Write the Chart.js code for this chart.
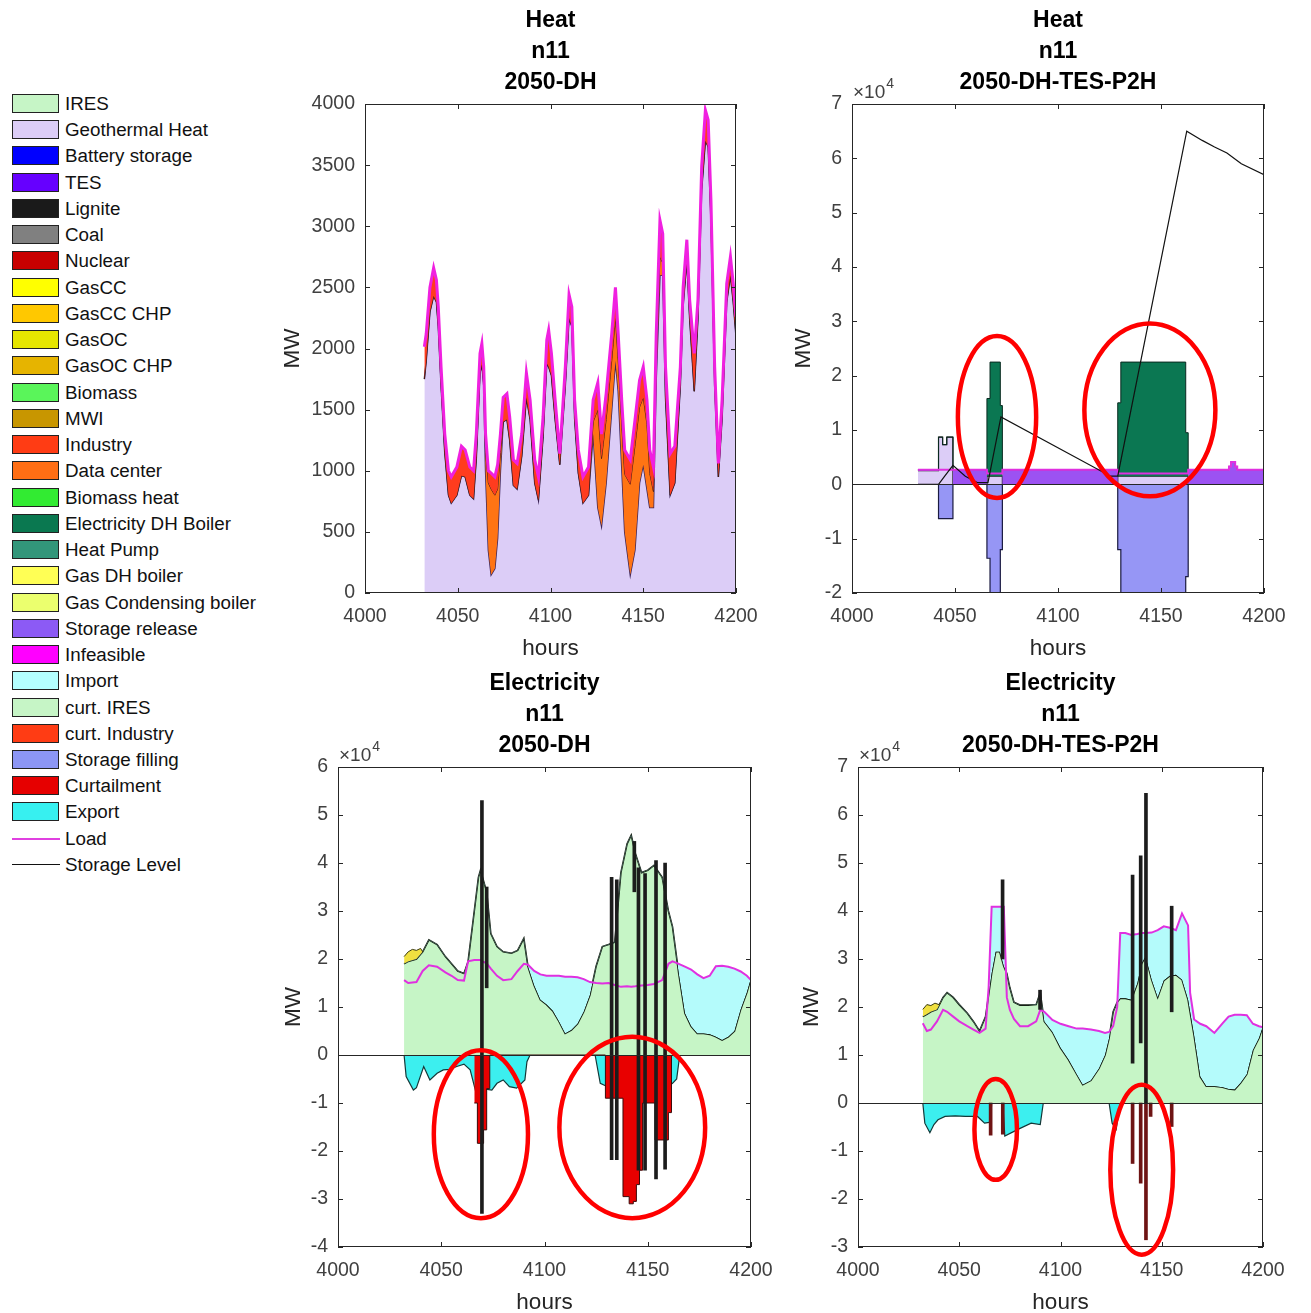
<!DOCTYPE html>
<html>
<head>
<meta charset="utf-8">
<title>Heat / Electricity n11</title>
<script src="https://cdn.jsdelivr.net/npm/chart.js@4.4.1/dist/chart.umd.min.js"></script>
<style>
  html, body { margin: 0; padding: 0; background: #fff; }
  body { position: relative; width: 1311px; height: 1313px; overflow: hidden; font-family: "Liberation Sans", Arial, sans-serif; }
  .panel { position: absolute; }
  .lg-item { position: absolute; left: 0; width: 270px; height: 22px; }
  .lg-box { position: absolute; left: 12px; top: 1px; width: 45px; height: 17px; border: 1.5px solid #222; }
  .lg-line { position: absolute; left: 12px; top: 10px; width: 48px; height: 0; border-top: 2px solid; }
  .lg-text { position: absolute; left: 65px; top: 0; font-size: 18.8px; line-height: 22px; white-space: nowrap; color: #111; }
</style>
</head>
<body>
<div id="legend"></div>
<div class="panel" id="pA"><canvas id="cA"></canvas></div>
<div class="panel" id="pB"><canvas id="cB"></canvas></div>
<div class="panel" id="pC"><canvas id="cC"></canvas></div>
<div class="panel" id="pD"><canvas id="cD"></canvas></div>
<script>
'use strict';

// ---- legend ----
const legendNames = ['IRES', 'Geothermal Heat', 'Battery storage', 'TES', 'Lignite', 'Coal', 'Nuclear', 'GasCC', 'GasCC CHP', 'GasOC', 'GasOC CHP', 'Biomass', 'MWI', 'Industry', 'Data center', 'Biomass heat', 'Electricity DH Boiler', 'Heat Pump', 'Gas DH boiler', 'Gas Condensing boiler', 'Storage release', 'Infeasible', 'Import', 'curt. IRES', 'curt. Industry', 'Storage filling', 'Curtailment', 'Export', 'Load', 'Storage Level'];
const legendColors = ['#c6f5c6', '#dccdf7', '#0000ff', '#6600ff', '#1a1a1a', '#808080', '#c80000', '#ffff00', '#ffc800', '#e6e600', '#e6b400', '#5af55a', '#c89600', '#ff3c14', '#ff6e14', '#32eb32', '#0a7850', '#32967a', '#ffff55', '#ebff6e', '#8c5af5', '#ff00ff', '#b4ffff', '#c6f5c6', '#ff3c14', '#8c96f5', '#e60000', '#37f0f0', '#e040e0', '#111111'];
const legendKinds = ['box', 'box', 'box', 'box', 'box', 'box', 'box', 'box', 'box', 'box', 'box', 'box', 'box', 'box', 'box', 'box', 'box', 'box', 'box', 'box', 'box', 'box', 'box', 'box', 'box', 'box', 'box', 'box', 'line', 'line'];

// ---- Heat, 2050-DH (MW) ----
const hoursA = [4032, 4033, 4035, 4037, 4038.5, 4039.5, 4041, 4043, 4045, 4046.5, 4049.5, 4052, 4054, 4056.5, 4058.5, 4060, 4062, 4063, 4064, 4065, 4066.5, 4068, 4070, 4071.5, 4073, 4074.5, 4076.5, 4078, 4080, 4082, 4084.5, 4087, 4089, 4091.5, 4093.5, 4096, 4098, 4099, 4100.5, 4102.5, 4105, 4108, 4110, 4111.5, 4113, 4115, 4117.5, 4120.5, 4123, 4125.5, 4127.5, 4130, 4133, 4135, 4136.5, 4138.5, 4140, 4143, 4145.5, 4148, 4150, 4152, 4153.5, 4155.5, 4157, 4159, 4160.5, 4162, 4164.5, 4167, 4170, 4171.5, 4173.5, 4175, 4177.5, 4179.5, 4181.5, 4183.5, 4185, 4186.5, 4188.5, 4190.5, 4192.5, 4195, 4197, 4198.5, 4200];
const loadA = [2015, 2120, 2500, 2660, 2560, 2340, 1850, 1300, 1000, 950, 1030, 1200, 1170, 1030, 1000, 1300, 1960, 2040, 1850, 1300, 1000, 980, 950, 1050, 1300, 1600, 1630, 1440, 1090, 1060, 1300, 1800, 1580, 1090, 950, 1440, 2070, 2150, 1960, 1580, 1140, 1850, 2440, 2340, 1580, 1170, 950, 1030, 1580, 1720, 1300, 1630, 2120, 2500, 2120, 1550, 1170, 1090, 1410, 1740, 1850, 1580, 1170, 1030, 2120, 3050, 2940, 1850, 1140, 1200, 1850, 2500, 2890, 2400, 1960, 2400, 3490, 3950, 3870, 3210, 1850, 1060, 1580, 2530, 2750, 2530, 2260];
const geothermalA = [1750, 1900, 2300, 2430, 2380, 2180, 1700, 1150, 800, 735, 800, 960, 950, 800, 770, 1100, 1800, 1870, 1700, 1000, 350, 150, 200, 450, 1000, 1400, 1420, 1250, 880, 850, 1120, 1600, 1420, 900, 760, 1280, 1880, 1850, 1780, 1420, 1050, 1700, 2250, 2180, 1430, 980, 735, 800, 1300, 700, 550, 900, 1500, 1900, 1650, 1000, 500, 150, 350, 900, 1050, 850, 700, 700, 1750, 2600, 2600, 1600, 800, 900, 1700, 2350, 2720, 2250, 1650, 2250, 3300, 3700, 3650, 3050, 1700, 950, 1430, 2380, 2600, 2380, 2100];
const dataCenterTopA = [1750, 1900, 2300, 2430, 2380, 2180, 1700, 1150, 800, 735, 800, 960, 950, 800, 770, 1100, 1800, 1870, 1700, 1150, 900, 850, 800, 850, 1150, 1400, 1420, 1250, 880, 850, 1120, 1600, 1420, 900, 760, 1280, 1880, 1850, 1780, 1420, 1050, 1700, 2250, 2180, 1430, 980, 735, 800, 1400, 1500, 1100, 1420, 1900, 2250, 1900, 1350, 970, 890, 1200, 1520, 1600, 1380, 980, 830, 1900, 2750, 2700, 1600, 800, 900, 1700, 2350, 2720, 2250, 1650, 2250, 3300, 3700, 3650, 3050, 1700, 950, 1430, 2380, 2600, 2380, 2100];

// ---- Heat, 2050-DH-TES-P2H (MW, values hold until next hour) ----
const hoursB = [4032, 4042, 4044, 4046, 4049, 4065.5, 4067, 4072, 4073, 4129, 4130.5, 4162, 4163.2, 4183, 4184, 4186, 4187, 4200];
const geothermalB = [2500, 8700, 7300, 8700, 0, 1500, 1500, 1500, 0, 1500, 1500, 1500, 0, 0, 0, 0, 0, 0];
const releaseTopB = [2700, 8700, 7300, 8700, 2700, 1500, 1500, 1500, 2700, 1500, 1500, 1500, 2700, 3300, 4100, 3300, 2700, 2700];
const boilerTopB = [2700, 8700, 7300, 8700, 2700, 15800, 22500, 14500, 2700, 15000, 22500, 9500, 2700, 3300, 4100, 3300, 2700, 2700];
const fillingB = [0, -6300, -6300, -6300, 0, -13600, -30000, -12000, 0, -12000, -30000, -17000, 0, 0, 0, 0, 0, 0];
const loadB = [2700, 2700, 2700, 2700, 2700, 2000, 2000, 2000, 2700, 2000, 2000, 2000, 2700, 3300, 4100, 3300, 2700, 2700];
const levelHoursB = [4032, 4042, 4045, 4049, 4055, 4061, 4066, 4072.3, 4125.5, 4129, 4162.5, 4170, 4176, 4182, 4189, 4200];
const levelB = [0, 0, 1500, 3500, 1500, 300, 300, 12400, 1500, 1500, 65000, 63300, 62100, 61000, 59000, 57000];

// ---- Electricity, 2050-DH (MW) ----
const hoursC = [4032, 4034, 4038, 4041, 4044, 4048, 4052, 4055, 4058, 4061, 4063, 4066, 4068, 4069, 4070, 4072, 4074, 4077, 4080, 4084, 4087, 4090, 4092, 4095, 4098, 4101, 4104, 4107, 4110, 4113, 4116, 4119, 4122, 4125, 4128, 4131, 4134, 4137, 4140, 4142, 4144, 4147, 4150, 4153, 4157, 4160, 4162, 4165, 4168, 4171, 4174, 4177, 4180, 4183, 4186, 4189, 4192, 4195, 4198, 4200];
const iresC = [19000, 19500, 20000, 21500, 24000, 23000, 20500, 19000, 17500, 17000, 19500, 30000, 37000, 38500, 37000, 34000, 25300, 22600, 21500, 21200, 21800, 24300, 18400, 14500, 11500, 10500, 9200, 7000, 4500, 5200, 6500, 9000, 12500, 18500, 22600, 23000, 23500, 38000, 44000, 45800, 42000, 38000, 38500, 39500, 37000, 30000, 26700, 17000, 8700, 6000, 4500, 4500, 4300, 3800, 3100, 3800, 5000, 9500, 13000, 16000];
const loadC = [15600, 15000, 15200, 17500, 18700, 18400, 17200, 16500, 15600, 15500, 19500, 19800, 19800, 19800, 19500, 19100, 18000, 16500, 15600, 15800, 17500, 19000, 18800, 17500, 16800, 16500, 16500, 16500, 16300, 16300, 16200, 15800, 15200, 15000, 14900, 15000, 14600, 14200, 14300, 14200, 14300, 14500, 14600, 14800, 15600, 19000, 19500, 19000, 18400, 17800, 16800, 16000, 16500, 18500, 18600, 18400, 18000, 17400, 16500, 15600];
const gasHoursC = [4032, 4034, 4036, 4038, 4040, 4041];
const gasTopC = [20500, 21500, 22000, 21800, 22200, 21500];
const exportHoursC = [4032, 4033, 4036.5, 4038, 4041.5, 4043, 4044.5, 4048, 4051, 4054, 4057.5, 4061, 4064, 4066.5, 4070, 4074.5, 4077, 4080, 4083, 4086.5, 4090.5, 4091.5, 4093, 4124.5, 4127, 4130, 4160, 4162, 4164, 4165.5];
const exportC = [0, -4500, -7300, -6800, -2400, -3800, -5200, -3800, -3100, -3000, -2400, -1900, -3100, -7300, -7000, -7300, -5900, -5200, -6600, -6900, -5200, -1400, 0, 0, -5900, -6500, -6500, -5900, -5000, 0];
const curtHoursC = [4066, 4067.5, 4070.5, 4072, 4073.5, 4129.5, 4138, 4141, 4143, 4144.5, 4146, 4147.5, 4153.5, 4160, 4161.5];
const curtC = [-10000, -18400, -15600, -7000, 0, -9000, -29500, -31000, -30500, -27000, -24000, -10000, -17700, -12000, 0];
const spikeHoursC = [4069.7, 4072, 4132.5, 4135, 4143.5, 4145.5, 4148.7, 4154, 4158.4];
const spikeLowC = [-33000, 14000, -21800, -21800, 34000, -24000, -24000, -25800, -23800];
const spikeHighC = [53000, 35000, 37000, 36500, 44500, 39000, 37800, 40500, 40000];

// ---- Electricity, 2050-DH-TES-P2H (MW) ----
const hoursD = [4032, 4034, 4036, 4039, 4042, 4044, 4047, 4050, 4054, 4057, 4060, 4063, 4064.5, 4066, 4068, 4070, 4072, 4073.5, 4075, 4077, 4080, 4084, 4088, 4090, 4092, 4096, 4100, 4104, 4108, 4111, 4115, 4119, 4122, 4124, 4126, 4128, 4129.5, 4132, 4135, 4138, 4140, 4142, 4145, 4148, 4151, 4154, 4157, 4160, 4163, 4164, 4166, 4169, 4172, 4176, 4180, 4183, 4186, 4189, 4192, 4195, 4198, 4200];
const iresD = [18000, 18500, 19000, 19500, 22000, 23000, 22000, 20500, 18700, 17000, 15000, 18000, 22500, 27000, 31500, 31500, 28500, 27000, 24000, 21000, 20400, 20400, 20500, 23000, 17000, 14800, 11500, 9000, 6000, 3800, 4700, 7200, 10000, 13500, 19000, 21000, 21800, 21800, 21500, 25000, 29000, 30500, 25700, 22000, 25500, 26500, 26700, 25700, 21500, 19000, 14000, 5500, 3500, 3500, 3300, 2900, 2800, 4200, 6000, 11000, 13500, 16000];
const loadD = [16600, 15000, 15300, 17000, 19400, 19000, 18000, 17000, 16000, 15300, 14600, 15500, 24000, 40900, 40900, 40900, 40900, 22000, 19400, 17500, 16000, 16000, 17000, 19400, 19000, 17300, 16500, 16000, 15500, 15500, 15300, 15000, 14600, 14800, 16000, 20000, 35400, 35400, 35000, 35200, 35400, 35400, 35500, 36000, 36800, 36500, 36000, 39500, 37000, 23000, 17400, 16500, 16000, 14600, 16600, 18000, 18400, 18400, 18300, 16500, 16000, 15800];
const gasHoursD = [4032, 4034, 4036, 4038, 4040, 4041];
const gasTopD = [19500, 20500, 20300, 20800, 20500, 20900];
const exportHoursD = [4032, 4033, 4035.5, 4037.5, 4039.5, 4043, 4048, 4053, 4059, 4062.5, 4065.5, 4066, 4071.5, 4072.5, 4079, 4085.5, 4090, 4091.5, 4124, 4125.5, 4127.5, 4129.5];
const exportD = [0, -4200, -6200, -4500, -3500, -2800, -2700, -2800, -2800, -4200, -4000, 0, 0, -6900, -5500, -4200, -4500, 0, 0, -4200, -5500, 0];
const spikeHoursD = [4071.4, 4089.9, 4135.6, 4139.6, 4142.2, 4154.9];
const spikeLowD = [30000, 19500, 8300, 12500, 0, 19000];
const spikeHighD = [46500, 23500, 47500, 51500, 64500, 41000];
const curtHoursD = [4065.5, 4071.5, 4135.6, 4139.6, 4142.2, 4144.5, 4154.9];
const curtD = [-6700, -6500, -12600, -16700, -28500, -2800, -4900];

// red ellipses drawn on the figure (centre hour/value and half extents)
const ellipsesB = [{ hour: 4070.4, value: 12400, halfHours: 19, halfValue: 14900 }, { hour: 4144.6, value: 13700, halfHours: 31.8, halfValue: 15900 }];
const ellipsesC = [{ hour: 4069.2, value: -16500, halfHours: 22.8, halfValue: 17500 }, { hour: 4142.5, value: -15100, halfHours: 35.3, halfValue: 18900 }];
const ellipsesD = [{ hour: 4068.0, value: -5500, halfHours: 10.5, halfValue: 10500 }, { hour: 4140.1, value: -13900, halfHours: 15.5, halfValue: 17700 }];

// ---- colours ----
const ires = '#c6f5c6', geo = '#dccdf7', industry = '#ff3c1e', dataCenter = '#ff7414',
  dhBoiler = '#0b7752', release = '#9c52f2', importCol = '#b4fbfb', filling = '#9696f5',
  curtail = '#e80000', exportCol = '#3cefef', loadCol = '#e030e0', gasCol = '#f0e040';
const tickColor = '#404040', axisColor = '#262626';

Chart.defaults.font.family = '"Liberation Sans", Arial, Helvetica, sans-serif';

// legend
const legendEl = document.getElementById('legend');
legendNames.forEach(function (name, i) {
  const item = document.createElement('div');
  item.className = 'lg-item';
  item.style.top = (104 + i * 26.24 - 11) + 'px';
  const mark = document.createElement('div');
  if (legendKinds[i] === 'box') {
    mark.className = 'lg-box';
    mark.style.background = legendColors[i];
  } else {
    mark.className = 'lg-line';
    mark.style.borderTopColor = legendColors[i];
    mark.style.borderTopWidth = (i === legendNames.length - 1 ? 1.5 : 2) + 'px';
  }
  const txt = document.createElement('div');
  txt.className = 'lg-text';
  txt.textContent = name;
  item.appendChild(mark);
  item.appendChild(txt);
  legendEl.appendChild(item);
});

// layout of the four axes
const yAxisW = 95, titleH = 104, xAxisH = 69, rightPad = 30;
function place(id, r) {
  const el = document.getElementById(id);
  el.style.left = (r.l - yAxisW) + 'px';
  el.style.top = (r.t - titleH) + 'px';
  el.style.width = (r.r - r.l + yAxisW + rightPad) + 'px';
  el.style.height = (r.b - r.t + titleH + xAxisH) + 'px';
}

const pts = (hs, vs) => hs.map((h, i) => ({ x: h, y: vs[i] }));
function area(label, hs, vs, o) {
  return Object.assign({ type: 'line', label: label, data: pts(hs, vs), pointRadius: 0, borderWidth: 1, tension: 0 }, o);
}
function spikes(label, hs, lo, hi, o) {
  return Object.assign({
    type: 'bar', label: label, data: hs.map((h, i) => ({ x: h, y: [lo[i], hi[i]] })),
    barThickness: 3, grouped: true, stack: 'spikes', borderWidth: 0
  }, o);
}

// box, inward ticks, baseline, x10^4 and ellipses, MATLAB style
function matlabAxes(cfg) {
  return {
    id: 'matlabAxes',
    afterDatasetsDraw(chart) {
      const { ctx, chartArea: a } = chart;
      const xs = chart.scales.x, ys = chart.scales.y;
      ctx.save();
      ctx.strokeStyle = axisColor;
      ctx.lineWidth = 1;
      if (cfg.zeroLine) {
        const y0 = Math.round(ys.getPixelForValue(0)) + 0.5;
        ctx.beginPath(); ctx.moveTo(a.left, y0); ctx.lineTo(a.right, y0); ctx.stroke();
      }
      ctx.strokeRect(Math.round(a.left) + 0.5, Math.round(a.top) + 0.5, Math.round(a.width) - 1, Math.round(a.height) - 1);
      ctx.beginPath();
      xs.ticks.forEach(function (t) {
        const px = Math.round(xs.getPixelForValue(t.value)) + 0.5;
        ctx.moveTo(px, a.bottom); ctx.lineTo(px, a.bottom - 5);
        ctx.moveTo(px, a.top); ctx.lineTo(px, a.top + 5);
      });
      ys.ticks.forEach(function (t) {
        const py = Math.round(ys.getPixelForValue(t.value)) + 0.5;
        ctx.moveTo(a.left, py); ctx.lineTo(a.left + 5, py);
        ctx.moveTo(a.right, py); ctx.lineTo(a.right - 5, py);
      });
      ctx.stroke();
      if (cfg.exponent) {
        ctx.fillStyle = tickColor;
        ctx.textAlign = 'left';
        ctx.textBaseline = 'alphabetic';
        ctx.font = '19px "Liberation Sans", Arial, sans-serif';
        ctx.fillText('\u00d710', a.left + 1, a.top - 6);
        const w = ctx.measureText('\u00d710').width;
        ctx.font = '14px "Liberation Sans", Arial, sans-serif';
        ctx.fillText('4', a.left + 2 + w, a.top - 16);
      }
      ctx.strokeStyle = '#ff0000';
      ctx.lineWidth = 4.5;
      (cfg.ellipses || []).forEach(function (e) {
        const cx = xs.getPixelForValue(e.hour), cy = ys.getPixelForValue(e.value);
        const rx = Math.abs(xs.getPixelForValue(e.hour + e.halfHours) - cx);
        const ry = Math.abs(ys.getPixelForValue(e.value + e.halfValue) - cy);
        ctx.beginPath();
        ctx.ellipse(cx, cy, rx, ry, 0, 0, Math.PI * 2);
        ctx.stroke();
      });
      ctx.restore();
    }
  };
}

function options(p) {
  return {
    responsive: true,
    maintainAspectRatio: false,
    animation: false,
    events: [],
    layout: { padding: { left: 0, top: 0, right: rightPad, bottom: 0 } },
    plugins: {
      legend: { display: false },
      tooltip: { enabled: false },
      title: {
        display: true, fullSize: false, text: p.title, color: '#000',
        font: { size: 23, weight: 'bold', lineHeight: 31 / 23 },
        padding: { top: 5, bottom: 6 }
      }
    },
    scales: {
      x: {
        type: 'linear', min: 4000, max: 4200, offset: false,
        grid: { display: false, drawTicks: false }, border: { display: false },
        ticks: { stepSize: 50, padding: 12, color: tickColor, font: { size: 19.5 }, maxRotation: 0, autoSkip: false, callback: v => String(v) },
        title: { display: true, text: 'hours', color: axisColor, font: { size: 22.5 }, padding: 0 },
        afterFit: function (s) { s.height = xAxisH; s.paddingLeft = 0; s.paddingRight = 0; }
      },
      y: {
        min: p.yMin, max: p.yMax,
        grid: { display: false, drawTicks: false }, border: { display: false },
        ticks: { stepSize: p.yStep, padding: 10, color: tickColor, font: { size: 19.5 }, autoSkip: false, callback: p.yFormat },
        title: { display: true, text: 'MW', color: axisColor, font: { size: 22.5 }, padding: { top: p.mwPad, bottom: 0 } },
        afterFit: function (s) { s.width = yAxisW; s.paddingTop = 0; s.paddingBottom = 0; }
      }
    }
  };
}
const e4 = v => String(Math.round(v / 10000));

// ---- Heat 2050-DH ----
place('pA', { l: 365, t: 104, r: 736, b: 593 });
new Chart(document.getElementById('cA'), {
  type: 'line',
  data: {
    datasets: [
      area('Load', hoursA, loadA, { order: 1, fill: 1, backgroundColor: industry, borderColor: '#f020e0', borderWidth: 3 }),
      area('Data center', hoursA, dataCenterTopA, { order: 2, fill: 2, backgroundColor: dataCenter, borderColor: '#3a1a10', borderWidth: 1 }),
      area('Geothermal Heat', hoursA, geothermalA, { order: 3, fill: 'origin', backgroundColor: geo, borderColor: '#3c2458', borderWidth: 1.5 })
    ]
  },
  options: options({ title: ['Heat', 'n11', '2050-DH'], yMin: 0, yMax: 4000, yStep: 500, yFormat: v => String(v), mwPad: 9.5 }),
  plugins: [matlabAxes({ zeroLine: false, exponent: false })]
});

// ---- Heat 2050-DH-TES-P2H ----
place('pB', { l: 852, t: 104, r: 1264, b: 593 });
new Chart(document.getElementById('cB'), {
  type: 'line',
  data: {
    datasets: [
      area('Storage Level', levelHoursB, levelB, { order: 1, fill: false, borderColor: '#111', borderWidth: 1.2 }),
      area('Load', hoursB, loadB, { order: 2, fill: false, stepped: 'before', borderColor: loadCol, borderWidth: 2 }),
      area('Electricity DH Boiler', hoursB, boilerTopB, { order: 3, fill: 3, stepped: 'before', backgroundColor: dhBoiler, borderColor: '#0a2a20', borderWidth: 1 }),
      area('Storage release', hoursB, releaseTopB, { order: 4, fill: 4, stepped: 'before', backgroundColor: release, borderWidth: 0 }),
      area('Geothermal Heat', hoursB, geothermalB, { order: 5, fill: 'origin', stepped: 'before', backgroundColor: geo, borderColor: '#1a1a1a', borderWidth: 1.2 }),
      area('Storage filling', hoursB, fillingB, { order: 6, fill: 'origin', stepped: 'before', backgroundColor: filling, borderColor: '#1a1a40', borderWidth: 1.2 })
    ]
  },
  options: options({ title: ['Heat', 'n11', '2050-DH-TES-P2H'], yMin: -20000, yMax: 70000, yStep: 10000, yFormat: e4, mwPad: 33.5 }),
  plugins: [matlabAxes({ zeroLine: true, exponent: true, ellipses: ellipsesB })]
});

// ---- Electricity 2050-DH ----
place('pC', { l: 338, t: 767, r: 751, b: 1247 });
new Chart(document.getElementById('cC'), {
  type: 'line',
  data: {
    datasets: [
      spikes('Lignite', spikeHoursC, spikeLowC, spikeHighC, { order: 1, backgroundColor: '#1c1c1c' }),
      area('Curtailment', curtHoursC, curtC, { order: 2, fill: 'origin', stepped: 'before', backgroundColor: curtail, borderColor: '#3a0a0a', borderWidth: 1 }),
      area('GasCC', gasHoursC, gasTopC, { order: 3, fill: { target: 4, above: gasCol, below: 'rgba(0,0,0,0)' }, borderColor: '#3a3a10', borderWidth: 1 }),
      area('Load', hoursC, loadC, { order: 4, fill: { target: 4, above: importCol, below: 'rgba(0,0,0,0)' }, borderColor: loadCol, borderWidth: 2 }),
      area('IRES', hoursC, iresC, { order: 5, fill: 'origin', backgroundColor: ires, borderColor: '#152015', borderWidth: 1.6 }),
      area('Export', exportHoursC, exportC, { order: 6, fill: 'origin', backgroundColor: exportCol, borderColor: '#143838', borderWidth: 1.2 })
    ]
  },
  options: options({ title: ['Electricity', 'n11', '2050-DH'], yMin: -40000, yMax: 60000, yStep: 10000, yFormat: e4, mwPad: 37.5 }),
  plugins: [matlabAxes({ zeroLine: true, exponent: true, ellipses: ellipsesC })]
});

// ---- Electricity 2050-DH-TES-P2H ----
place('pD', { l: 858, t: 767, r: 1263, b: 1247 });
new Chart(document.getElementById('cD'), {
  type: 'line',
  data: {
    datasets: [
      spikes('Lignite', spikeHoursD, spikeLowD, spikeHighD, { order: 1, backgroundColor: '#1c1c1c' }),
      spikes('Curtailment', curtHoursD, curtD, curtD.map(() => 0), { order: 2, backgroundColor: '#6e1414' }),
      area('GasCC', gasHoursD, gasTopD, { order: 3, fill: { target: 4, above: gasCol, below: 'rgba(0,0,0,0)' }, borderColor: '#3a3a10', borderWidth: 1 }),
      area('Load', hoursD, loadD, { order: 4, fill: { target: 4, above: importCol, below: 'rgba(0,0,0,0)' }, borderColor: loadCol, borderWidth: 2 }),
      area('IRES', hoursD, iresD, { order: 5, fill: 'origin', backgroundColor: ires, borderColor: '#152015', borderWidth: 1.6 }),
      area('Export', exportHoursD, exportD, { order: 6, fill: 'origin', backgroundColor: exportCol, borderColor: '#143838', borderWidth: 1.2 })
    ]
  },
  options: options({ title: ['Electricity', 'n11', '2050-DH-TES-P2H'], yMin: -30000, yMax: 70000, yStep: 10000, yFormat: e4, mwPad: 35.5 }),
  plugins: [matlabAxes({ zeroLine: true, exponent: true, ellipses: ellipsesD })]
});
</script>
</body>
</html>
